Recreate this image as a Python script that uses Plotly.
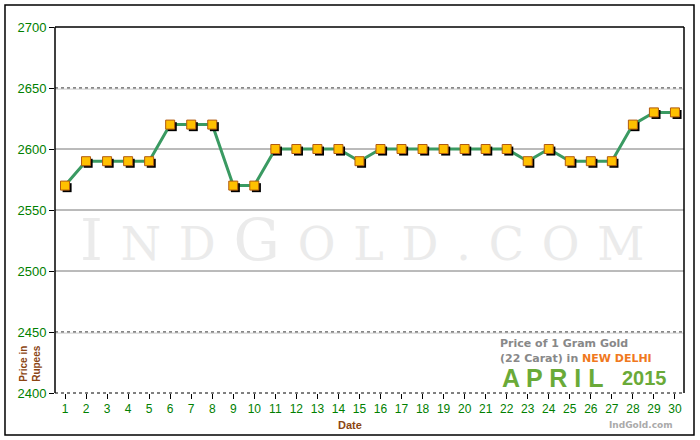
import plotly.graph_objects as go

days = list(range(1, 31))
prices = [2570, 2590, 2590, 2590, 2590, 2620, 2620, 2620, 2570, 2570,
          2600, 2600, 2600, 2600, 2590, 2600, 2600, 2600, 2600, 2600,
          2600, 2600, 2590, 2600, 2590, 2590, 2590, 2620, 2630, 2630]
y_ticks = [2400, 2450, 2500, 2550, 2600, 2650, 2700]
x_labels = [str(d) for d in days]

GREEN = "#008000"
BROWN = "#8B4513"
FONT = "Liberation Sans"
WIDE = "DejaVu Sans"

fig = go.Figure()

fig.add_trace(go.Scatter(x=days, y=prices, mode="lines",
                         line=dict(color="#3a9a62", width=3), hoverinfo="skip"))
fig.add_trace(go.Scatter(x=[d + 0.1 for d in days], y=[p - 1.7 for p in prices],
                         mode="markers",
                         marker=dict(symbol="square", size=9, color="black",
                                     line=dict(width=0)), hoverinfo="skip"))
fig.add_trace(go.Scatter(x=days, y=prices, mode="markers",
                         marker=dict(symbol="square", size=9, color="#FFC000",
                                     line=dict(color="#B05A10", width=1))))

shapes = []
for v in y_ticks[1:-1]:
    dotted = v in (2650, 2450)
    shapes.append(dict(type="line", xref="paper", yref="y", x0=0, x1=1, y0=v, y1=v,
                       line=dict(color="#111111" if dotted else "#777777",
                                 width=1, dash="dot" if dotted else "solid"),
                       layer="below"))
    if dotted:
        shapes.append(dict(type="line", xref="paper", yref="y", x0=0, x1=1,
                           y0=v - 0.9, y1=v - 0.9,
                           line=dict(color="#cccccc", width=1), layer="below"))
shapes.append(dict(type="line", xref="paper", yref="paper", x0=0, x1=1, y0=1, y1=1,
                   line=dict(color="black", width=1.5)))
shapes.append(dict(type="line", xref="paper", yref="paper", x0=0, x1=0, y0=0, y1=1,
                   line=dict(color="black", width=1.5)))
shapes.append(dict(type="line", xref="paper", yref="paper", x0=1, x1=1, y0=0, y1=1,
                   line=dict(color="black", width=1.5)))
shapes.append(dict(type="line", xref="paper", yref="paper", x0=0, x1=1, y0=0, y1=0,
                   line=dict(color="black", width=1, dash="dot")))
shapes.append(dict(type="rect", xref="paper", yref="paper",
                   x0=-0.0795, x1=1.0159, y0=-0.1148, y1=1.060,
                   line=dict(color="black", width=1.5), fillcolor="rgba(0,0,0,0)"))

# watermark built letter by letter with wide spacing
wm_letters = [("I", 58), ("N", 46), ("D", 46), ("G", 58), ("O", 46), ("L", 46),
              ("D", 46), (".", 46), ("C", 46), ("O", 46), ("M", 46)]
gap = "<span style='font-size:56px'> </span>"
wm_text = gap.join(f"<span style='font-size:{s}px'>{c}</span>" for c, s in wm_letters)

annotations = [
    dict(text=wm_text, x=0.488, y=0.418, xref="paper", yref="paper", showarrow=False,
         xanchor="center", yanchor="middle",
         font=dict(family="DejaVu Serif", size=46, color="#ebebeb")),
    dict(text="<b>Date</b>", x=0.469, y=-0.087, xref="paper", yref="paper", showarrow=False,
         xanchor="center", yanchor="middle",
         font=dict(family=FONT, size=11, color=BROWN)),
    dict(text="<b>Price in<br>Rupees</b>", x=-0.04, y=0.082, xref="paper", yref="paper",
         showarrow=False, textangle=-90, xanchor="center", yanchor="middle",
         font=dict(family=FONT, size=10, color=BROWN)),
    dict(text="<b>Price of 1 Gram Gold</b>", x=0.7043, y=0.1339, xref="paper", yref="paper",
         xanchor="left", yanchor="middle", showarrow=False,
         font=dict(family=WIDE, size=11, color="#888888")),
    dict(text="<b>(22 Carat) in <span style='color:#F07820'>NEW DELHI</span></b>",
         x=0.7043, y=0.0956, xref="paper", yref="paper", xanchor="left", yanchor="middle",
         showarrow=False, font=dict(family=WIDE, size=11, color="#888888")),
    dict(text="<b>A P R I L</b>", x=0.7075, y=0.041, xref="paper", yref="paper",
         xanchor="left", yanchor="middle", showarrow=False,
         font=dict(family=FONT, size=25, color="#6aaa38")),
    dict(text="<b>2015</b>", x=0.898, y=0.041, xref="paper", yref="paper",
         xanchor="left", yanchor="middle", showarrow=False,
         font=dict(family=FONT, size=20, color="#6aaa38")),
    dict(text="<b>IndGold.com</b>", x=0.8776, y=-0.0874, xref="paper", yref="paper",
         xanchor="left", yanchor="middle", showarrow=False,
         font=dict(family=WIDE, size=9, color="#aaaaaa")),
]

fig.update_layout(
    width=700, height=440,
    margin=dict(l=55, r=16, t=27, b=47),
    paper_bgcolor="white", plot_bgcolor="white",
    showlegend=False,
    shapes=shapes, annotations=annotations,
    xaxis=dict(range=[0.524, 30.43], tickmode="array", tickvals=days, ticktext=x_labels,
               showgrid=False, zeroline=False, showline=False,
               ticks="outside", ticklen=5, tickcolor="black",
               tickfont=dict(family=FONT, size=12, color=GREEN)),
    yaxis=dict(range=[2400, 2700], tickmode="array", tickvals=y_ticks,
               showgrid=False, zeroline=False, showline=False,
               ticks="outside", ticklen=5, tickcolor="black",
               tickfont=dict(family=FONT, size=13, color=GREEN)),
)

fig.write_html("out.html", config={"displayModeBar": False},
               post_script="document.body.style.margin='0px';")
